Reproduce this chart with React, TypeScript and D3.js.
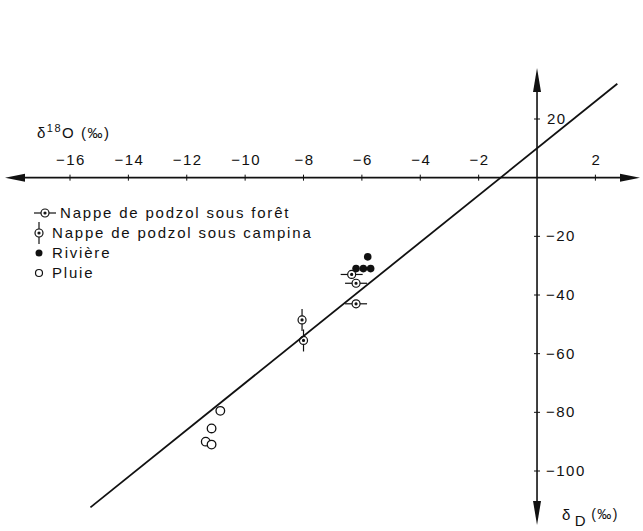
import React from "react";
import * as d3 from "d3";

// -- DATA --
const xTicks = [-16, -14, -12, -10, -8, -6, -4, -2, 2];
const yTicks = [20, -20, -40, -60, -80, -100];

// Nappe de podzol sous forêt
const foretO = [-6.35, -6.2, -6.2];
const foretD = [-33, -36, -43];
// Nappe de podzol sous campina
const campinaO = [-8.05, -8.0];
const campinaD = [-48.5, -55.5];
// Rivière
const riviereO = [-5.8, -6.2, -5.95, -5.7];
const riviereD = [-27, -31, -31, -31];
// Pluie
const pluieO = [-10.85, -11.15, -11.35, -11.15];
const pluieD = [-79.5, -85.5, -90, -91];
// droite des eaux météoriques
const lineO = [-15.3, 2.75];
const lineD = [-112.4, 32];

const legendLabels = [
  "Nappe de podzol sous forêt",
  "Nappe de podzol sous campina",
  "Rivière",
  "Pluie",
];

const W = 643;
const H = 531;
const font = "'Liberation Sans', Arial, sans-serif";

const App = () => {
  const x = d3.scaleLinear().domain([-16, 2]).range([70, 595.4]);
  const y = d3.scaleLinear().domain([-100, 20]).range([471, 119]);
  const x0 = x(0);
  const y0 = y(0);

  const ink = "#111";

  const foretMark = (cx: number, cy: number, key: string) => (
    <g key={key} stroke={ink} fill="none" strokeWidth={1.2}>
      <circle cx={cx} cy={cy} r={4} />
      <line x1={cx - 11} x2={cx - 4} y1={cy} y2={cy} />
      <line x1={cx + 4} x2={cx + 11} y1={cy} y2={cy} />
      <circle cx={cx} cy={cy} r={1} fill={ink} />
    </g>
  );
  const campinaMark = (cx: number, cy: number, key: string) => (
    <g key={key} stroke={ink} fill="none" strokeWidth={1.2}>
      <circle cx={cx} cy={cy} r={4} />
      <line x1={cx} x2={cx} y1={cy - 11} y2={cy - 4} />
      <line x1={cx} x2={cx} y1={cy + 4} y2={cy + 11} />
      <circle cx={cx} cy={cy} r={1} fill={ink} />
    </g>
  );

  const lineGen = d3
    .line<number>()
    .x((d) => x(d))
    .y((d, i) => y(lineD[i]));

  const legendY = [213, 233, 253, 273];
  const fmt = (t: number) => (t < 0 ? "\u2212" + Math.abs(t) : String(t));

  return (
    <svg
      width={W}
      height={H}
      style={{ position: "absolute", left: 0, top: 0, background: "#fff" }}
      fontFamily={font}
    >
      {/* axes */}
      <g stroke={ink} strokeWidth={1.6}>
        <line x1={14} x2={630} y1={y0} y2={y0} />
        <line x1={x0} x2={x0} y1={80} y2={512} />
      </g>
      <g fill={ink}>
        <path d={`M5,${y0} L25,${y0 - 4} L25,${y0 + 4} Z`} />
        <path d={`M640,${y0} L620,${y0 - 4} L620,${y0 + 4} Z`} />
        <path d={`M${x0},68 L${x0 - 4},92 L${x0 + 4},92 Z`} />
        <path d={`M${x0},525 L${x0 - 4},501 L${x0 + 4},501 Z`} />
      </g>

      {/* x ticks */}
      {xTicks.map((t) => (
        <g key={"xt" + t}>
          <line x1={x(t)} x2={x(t)} y1={y0 - 3} y2={y0 + 3} stroke={ink} strokeWidth={1} />
          <text x={x(t) + 1} y={y0 - 13} fontSize={15} letterSpacing={1.5} textAnchor="middle" fill={ink}>
            {fmt(t)}
          </text>
        </g>
      ))}
      {/* y ticks */}
      {yTicks.map((t) => (
        <g key={"yt" + t}>
          <line x1={x0 - 3} x2={x0 + 3} y1={y(t)} y2={y(t)} stroke={ink} strokeWidth={1} />
          <text x={x0 + (t < 0 ? 9 : 10)} y={y(t) + 5} fontSize={15} letterSpacing={1.5} fill={ink}>
            {fmt(t)}
          </text>
        </g>
      ))}

      {/* axis titles */}
      <text x={37} y={138} fontSize={15} letterSpacing={1.5} fill={ink}>
        δ<tspan dy={-6} fontSize={11}>18</tspan>
        <tspan dy={6}>O (‰)</tspan>
      </text>
      <text x={562} y={520} fontSize={15} letterSpacing={1.5} fill={ink}>
        δ<tspan dx={3} dy={6}>D</tspan>
        <tspan dx={4} dy={-7} fontSize={14}>(‰)</tspan>
      </text>

      {/* meteoric water line */}
      <path d={lineGen(lineO) || ""} stroke={ink} strokeWidth={1.8} fill="none" />

      {/* points */}
      {pluieO.map((o, i) => (
        <circle key={"p" + i} cx={x(o)} cy={y(pluieD[i])} r={4.3} fill="#fff" stroke={ink} strokeWidth={1.3} />
      ))}
      {foretO.map((o, i) => foretMark(x(o), y(foretD[i]), "f" + i))}
      {campinaO.map((o, i) => campinaMark(x(o), y(campinaD[i]), "c" + i))}
      {riviereO.map((o, i) => (
        <circle key={"r" + i} cx={x(o)} cy={y(riviereD[i])} r={3.8} fill={ink} />
      ))}

      {/* legend */}
      {foretMark(45, legendY[0], "lf")}
      {campinaMark(39, legendY[1], "lc")}
      <circle cx={39} cy={legendY[2]} r={3.5} fill={ink} />
      <circle cx={39} cy={legendY[3]} r={3.5} fill="none" stroke={ink} strokeWidth={1.2} />
      {legendLabels.map((l, i) => (
        <text key={"l" + i} x={i === 0 ? 60 : 52} y={legendY[i] + 5} fontSize={15} letterSpacing={1.8} fill={ink}>
          {l}
        </text>
      ))}
    </svg>
  );
};

export default App;
